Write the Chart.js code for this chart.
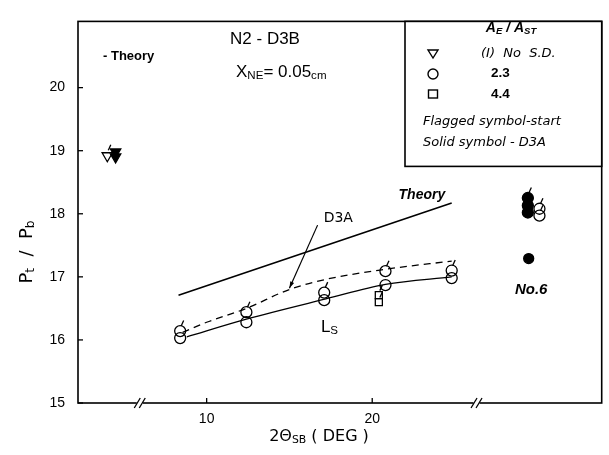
<!DOCTYPE html>
<html>
<head>
<meta charset="utf-8">
<script src="https://cdn.jsdelivr.net/npm/chart.js@4.4.1/dist/chart.umd.min.js"></script>
<style>
  html, body { margin: 0; padding: 0; background: #fff; }
  #wrap { width: 609px; height: 455px; position: relative; }
  canvas { display: block; }
</style>
</head>
<body>
<div id="wrap"><canvas id="c" width="609" height="455"></canvas></div>
<script>
// ---- measured values -------------------------------------------------
// stations along 2θSB (deg)
const stationX        = [8.4, 12.4, 17.1, 20.8, 24.8];
// A_E/A_ST = 2.3, flagged (start) circles
const circleFlagY     = [16.14, 16.44, 16.75, 17.09, 17.10];
// A_E/A_ST = 2.3, plain circles
const circlePlainY    = [16.03, 16.28, 16.63, 16.87, 16.98];
// A_E/A_ST = 4.4 squares
const squareX         = [20.4, 20.4];
const squareY         = [16.71, 16.60];
// no side-duct (I) triangles, left of the break
const triOpenX        = [4.0];
const triOpenY        = [18.92];
const triSolidX       = [4.5, 4.5];
const triSolidY       = [18.98, 18.90];
// D3A solid symbols and open circles, right of the break
const solidRightX     = [29.4, 29.4, 29.4];
const solidRightY     = [18.25, 18.13, 18.02];
const openRightX      = [30.1, 30.1];
const openRightY      = [18.08, 17.97];
const no6X            = [29.45];
const no6Y            = [17.29];
// theory line
const theoryX         = [8.3, 24.8];
const theoryY         = [16.71, 18.17];
// faired curves
const fitD3AX         = [8.55, 10, 12.4, 15, 17.2, 20.8, 24.8];
const fitD3AY         = [16.12, 16.28, 16.50, 16.80, 16.96, 17.12, 17.25];
const fitStartX       = [8.8, 12.4, 17.2, 20.8, 24.8];
const fitStartY       = [16.05, 16.33, 16.65, 16.88, 17.00];
// axes
const yTicks          = [15, 16, 17, 18, 19, 20];
const xTicks          = [10, 20];
const xBreaks         = [5.96, 26.3];

const SANS = '"Liberation Sans", Arial, sans-serif';
const WIDE = '"DejaVu Sans", "Liberation Sans", sans-serif';
const INK = '#000';

function pts(xs, ys) { return xs.map((x, i) => ({ x: x, y: ys[i] })); }

// draw a run of text pieces; pieces with sub:true are smaller and lowered
function drawRich(ctx, pieces, x, y, size, align, style, family) {
  const fam = family || SANS;
  const f = (s) => (style || '') + ' ' + s + 'px ' + fam;
  let total = 0;
  pieces.forEach(p => {
    ctx.font = f(p.sub ? size * 0.68 : size);
    p.w = ctx.measureText(p.t).width;
    total += p.w;
  });
  let cx = align === 'center' ? x - total / 2 : (align === 'right' ? x - total : x);
  ctx.textBaseline = 'middle';
  ctx.textAlign = 'left';
  pieces.forEach(p => {
    ctx.font = f(p.sub ? size * 0.68 : size);
    ctx.fillText(p.t, cx, y + (p.sub ? size * 0.22 : 0));
    cx += p.w;
  });
}

const decor = {
  id: 'decor',
  afterDatasetsDraw(chart) {
    const ctx = chart.ctx;
    const xs = chart.scales.x, ys = chart.scales.y;
    const a = chart.chartArea;
    const px = v => xs.getPixelForValue(v);
    const py = v => ys.getPixelForValue(v);
    ctx.save();
    ctx.strokeStyle = INK;
    ctx.fillStyle = INK;

    // flags on start symbols
    chart.data.datasets.forEach((ds, i) => {
      if (!ds.flag) return;
      const r = ds.pointRadius;
      chart.getDatasetMeta(i).data.forEach(el => {
        ctx.lineWidth = 1.3;
        ctx.beginPath();
        ctx.moveTo(el.x + 1, el.y - r + 0.5);
        ctx.lineTo(el.x + 3.5, el.y - r - 5);
        ctx.stroke();
      });
    });

    // frame
    ctx.lineWidth = 1.6;
    ctx.strokeRect(a.left, a.top, a.right - a.left, a.bottom - a.top);

    // inward ticks
    ctx.lineWidth = 1.3;
    yTicks.forEach(v => {
      ctx.beginPath(); ctx.moveTo(a.left, py(v)); ctx.lineTo(a.left + 5, py(v)); ctx.stroke();
    });
    xTicks.forEach(v => {
      ctx.beginPath(); ctx.moveTo(px(v), a.bottom); ctx.lineTo(px(v), a.bottom - 5); ctx.stroke();
    });

    // axis breaks
    xBreaks.forEach(v => {
      const bx = px(v), by = a.bottom;
      ctx.fillStyle = '#fff';
      ctx.fillRect(bx - 3, by - 3, 6, 6);
      ctx.fillStyle = INK;
      ctx.lineWidth = 1.3;
      [-2.5, 2.5].forEach(d => {
        ctx.beginPath();
        ctx.moveTo(bx + d - 3, by + 5);
        ctx.lineTo(bx + d + 3, by - 5);
        ctx.stroke();
      });
    });

    // axis titles
    drawRich(ctx, [{ t: '2Θ' }, { t: 'SB', sub: true }, { t: ' ( DEG )' }], 319, 437, 16, 'center', '', WIDE);
    ctx.save();
    ctx.translate(27, 252);
    ctx.rotate(-Math.PI / 2);
    drawRich(ctx, [{ t: 'P' }, { t: 't', sub: true }, { t: '  /  P' }, { t: 'b', sub: true }], 0, 0, 18, 'center', '', WIDE);
    ctx.restore();

    // headings
    drawRich(ctx, [{ t: 'N2 - D3B' }], 265, 39, 17, 'center', '');
    drawRich(ctx, [{ t: '- Theory' }], 103, 56, 13, 'left', 'bold');
    drawRich(ctx, [{ t: 'X' }, { t: 'NE', sub: true }, { t: '= 0.05' }, { t: 'cm', sub: true }], 236, 72, 17, 'left', '');

    // curve labels
    drawRich(ctx, [{ t: 'Theory' }], px(23.0), py(18.3), 14, 'center', 'italic bold');
    drawRich(ctx, [{ t: 'D3A' }], px(17.95), py(17.92), 14, 'center', '', WIDE);
    // leader from the D3A label to the dashed curve
    const lx0 = px(16.7), ly0 = py(17.82), lx1 = px(15.0), ly1 = py(16.82);
    ctx.lineWidth = 1.2;
    ctx.beginPath(); ctx.moveTo(lx0, ly0); ctx.lineTo(lx1, ly1); ctx.stroke();
    const ang = Math.atan2(ly1 - ly0, lx1 - lx0);
    ctx.beginPath();
    ctx.moveTo(lx1, ly1);
    ctx.lineTo(lx1 - 7 * Math.cos(ang - 0.3), ly1 - 7 * Math.sin(ang - 0.3));
    ctx.lineTo(lx1 - 7 * Math.cos(ang + 0.3), ly1 - 7 * Math.sin(ang + 0.3));
    ctx.closePath(); ctx.fill();

    drawRich(ctx, [{ t: 'L' }, { t: 'S', sub: true }], px(16.9), py(16.2), 17, 'left', '');
    drawRich(ctx, [{ t: 'No.6' }], px(29.6), py(16.8), 15, 'center', 'italic bold');

    // key box
    const kx = 405, ky = a.top, kw = a.right - kx, kh = 145;
    ctx.fillStyle = '#fff';
    ctx.fillRect(kx, ky, kw, kh);
    ctx.fillStyle = INK;
    ctx.lineWidth = 1.6;
    ctx.strokeRect(kx, ky, kw, kh);
    drawRich(ctx, [{ t: 'A' }, { t: 'E', sub: true }, { t: ' / A' }, { t: 'ST', sub: true }], 511, 28, 14, 'center', 'italic bold');
    // key symbols
    ctx.lineWidth = 1.4;
    const sx = 433;
    ctx.beginPath();
    ctx.moveTo(sx - 5, 50); ctx.lineTo(sx + 5, 50); ctx.lineTo(sx, 58); ctx.closePath(); ctx.stroke();
    ctx.beginPath(); ctx.arc(sx, 74, 5, 0, Math.PI * 2); ctx.stroke();
    ctx.strokeRect(sx - 4.5, 90, 9, 8);
    drawRich(ctx, [{ t: '(I)  No  S.D.' }], 481, 54, 13, 'left', 'oblique', WIDE);
    drawRich(ctx, [{ t: '2.3' }], 491, 73, 13.5, 'left', 'bold');
    drawRich(ctx, [{ t: '4.4' }], 491, 94, 13.5, 'left', 'bold');
    drawRich(ctx, [{ t: 'Flagged symbol-start' }], 423, 122, 13, 'left', 'oblique', WIDE);
    drawRich(ctx, [{ t: 'Solid symbol - D3A' }], 423, 143, 13, 'left', 'oblique', WIDE);
    ctx.restore();
  }
};

const lineBase = { showLine: true, pointRadius: 0, borderColor: INK, fill: false };
const markBase = { showLine: false, borderColor: INK, borderWidth: 1.3, backgroundColor: 'rgba(0,0,0,0)' };

new Chart(document.getElementById('c'), {
  type: 'scatter',
  data: {
    datasets: [
      Object.assign({ label: 'Theory', data: pts(theoryX, theoryY), borderWidth: 1.6 }, lineBase),
      Object.assign({ label: 'D3A', data: pts(fitD3AX, fitD3AY), borderWidth: 1.3, borderDash: [7, 5], cubicInterpolationMode: 'monotone' }, lineBase),
      Object.assign({ label: 'start', data: pts(fitStartX, fitStartY), borderWidth: 1.3, cubicInterpolationMode: 'monotone' }, lineBase),
      Object.assign({ label: '2.3 start', data: pts(stationX, circleFlagY), pointStyle: 'circle', pointRadius: 5.5, flag: true }, markBase),
      Object.assign({ label: '2.3', data: pts(stationX, circlePlainY), pointStyle: 'circle', pointRadius: 5.5 }, markBase),
      Object.assign({ label: '4.4', data: pts(squareX, squareY), pointStyle: 'rect', pointRadius: 5, flag: true }, markBase),
      Object.assign({ label: 'No S.D. start', data: pts(triOpenX, triOpenY), pointStyle: 'triangle', rotation: 180, pointRadius: 6, flag: true }, markBase),
      Object.assign({}, markBase, { label: 'No S.D. D3A', data: pts(triSolidX, triSolidY), pointStyle: 'triangle', rotation: 180, pointRadius: 6, backgroundColor: INK }),
      Object.assign({}, markBase, { label: 'D3A solid', data: pts(solidRightX, solidRightY), pointStyle: 'circle', pointRadius: 5.5, backgroundColor: INK, flag: true }),
      Object.assign({ label: '2.3 right', data: pts(openRightX, openRightY), pointStyle: 'circle', pointRadius: 5.5, flag: true }, markBase),
      Object.assign({}, markBase, { label: 'No.6', data: pts(no6X, no6Y), pointStyle: 'circle', pointRadius: 5, backgroundColor: INK })
    ]
  },
  options: {
    responsive: false,
    animation: false,
    devicePixelRatio: 1,
    layout: { padding: { top: 10, right: 6, left: 0, bottom: 0 } },
    plugins: { legend: { display: false }, tooltip: { enabled: false } },
    scales: {
      x: {
        type: 'linear', min: 2.23, max: 33.86,
        afterBuildTicks: s => { s.ticks = xTicks.map(v => ({ value: v })); },
        afterFit: s => { s.height = 52; },
        grid: { display: false, drawTicks: false },
        border: { display: false },
        ticks: { padding: 8, autoSkip: false, maxRotation: 0, color: INK, font: { family: SANS, size: 14 } }
      },
      y: {
        min: 15, max: 21.05,
        afterBuildTicks: s => { s.ticks = yTicks.map(v => ({ value: v })); },
        afterFit: s => { s.width = 78; },
        grid: { display: false, drawTicks: false },
        border: { display: false },
        ticks: { padding: 13, autoSkip: false, color: INK, font: { family: SANS, size: 14 } }
      }
    }
  },
  plugins: [decor]
});
</script>
</body>
</html>
